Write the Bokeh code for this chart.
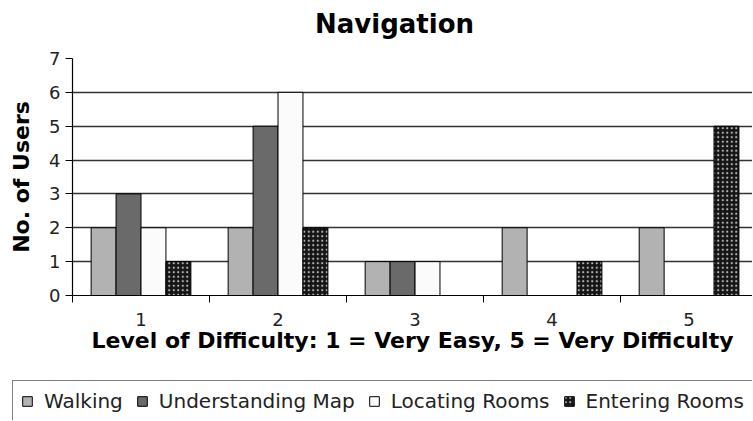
from bokeh.plotting import figure
from bokeh.models import ColumnDataSource, Range1d, FixedTicker, Legend, LegendItem, Label
from bokeh.layouts import column
from bokeh.transform import dodge
from bokeh.embed import file_html
from bokeh.resources import INLINE

title_text = "Navigation"
x_title = "Level of Difficulty: 1 = Very Easy, 5 = Very Difficulty"
y_title = "No. of Users"
levels = [1, 2, 3, 4, 5]
level_labels = ["1", "2", "3", "4", "5"]
walking = [2, 2, 1, 2, 2]
understanding_map = [3, 5, 1, 0, 0]
locating_rooms = [2, 6, 1, 0, 0]
entering_rooms = [1, 2, 0, 1, 5]
series_names = ["Walking", "Understanding Map", "Locating Rooms", "Entering Rooms"]
series_fill = ["#b2b2b2", "#6a6a6a", "#fbfbfb", "#141414"]

src = ColumnDataSource(dict(x=levels, w=walking, u=understanding_map,
                            l=locating_rooms, e=entering_rooms))

FONT = "DejaVu Sans"
HATCH = dict(hatch_pattern="dot", hatch_color="#b4b4b4", hatch_scale=4.5, hatch_weight=3.0)
W = 752


def strip(h):
    f = figure(width=W, height=h, output_backend="svg", toolbar_location=None,
               x_range=Range1d(0, W), y_range=Range1d(0, h), min_border=0,
               min_border_left=0, min_border_right=0, min_border_top=0, min_border_bottom=0,
               x_axis_location=None, y_axis_location=None, outline_line_color=None,
               background_fill_color="white", border_fill_color="white")
    f.frame_align = False
    f.xgrid.grid_line_color = None
    f.ygrid.grid_line_color = None
    return f


# title strip
tp = strip(40)
tp.add_layout(Label(x=394, y=17, text=title_text, text_align="center",
                    text_baseline="alphabetic", text_font=FONT, text_font_size="26px",
                    text_font_style="bold", text_color="black"))

# main chart
p = figure(width=W, height=335, output_backend="svg", toolbar_location=None,
           x_range=Range1d(0.5, 5.463), y_range=Range1d(0, 7),
           min_border_left=72, min_border_right=0, min_border_top=18,
           min_border_bottom=80, background_fill_color="white",
           border_fill_color="white", outline_line_color=None)
p.frame_align = False

bw = 0.182
common = dict(source=src, width=bw, line_color="black", line_width=1)
p.vbar(x=dodge("x", -0.273, range=p.x_range), top="w", fill_color=series_fill[0], **common)
p.vbar(x=dodge("x", -0.091, range=p.x_range), top="u", fill_color=series_fill[1], **common)
p.vbar(x=dodge("x", 0.091, range=p.x_range), top="l", fill_color=series_fill[2], **common)
p.vbar(x=dodge("x", 0.273, range=p.x_range), top="e", fill_color=series_fill[3], **HATCH, **common)

p.xaxis.ticker = FixedTicker(ticks=levels, minor_ticks=[0.5, 1.5, 2.5, 3.5, 4.5, 5.5])
p.xaxis.major_label_overrides = {lv: lb for lv, lb in zip(levels, level_labels)}
p.xaxis.major_tick_out = 0
p.xaxis.major_tick_in = 0
p.xaxis.minor_tick_out = 7
p.xaxis.minor_tick_in = 0
p.xaxis.minor_tick_line_color = "black"
p.xaxis.axis_line_color = "black"
p.xaxis.axis_line_width = 1.2
p.xaxis.major_label_text_font = FONT
p.xaxis.major_label_text_font_size = "18px"
p.xaxis.major_label_text_color = "#222222"
p.xaxis.major_label_standoff = 10
p.xaxis.axis_label = x_title
p.xaxis.axis_label_text_font = FONT
p.xaxis.axis_label_text_font_size = "22px"
p.xaxis.axis_label_text_font_style = "bold"
p.xaxis.axis_label_text_color = "black"
p.xaxis.axis_label_standoff = -1

p.yaxis.ticker = FixedTicker(ticks=list(range(0, 8)))
p.yaxis.major_tick_out = 7
p.yaxis.major_tick_in = 0
p.yaxis.minor_tick_line_color = None
p.yaxis.major_tick_line_color = "black"
p.yaxis.axis_line_color = "black"
p.yaxis.axis_line_width = 1.2
p.yaxis.major_label_text_font = FONT
p.yaxis.major_label_text_font_size = "18px"
p.yaxis.major_label_text_color = "#222222"
p.yaxis.major_label_standoff = 5
p.yaxis.axis_label = y_title
p.yaxis.axis_label_text_font = FONT
p.yaxis.axis_label_text_font_size = "22px"
p.yaxis.axis_label_text_font_style = "bold"
p.yaxis.axis_label_text_color = "black"
p.yaxis.axis_label_standoff = 12

p.xgrid.grid_line_color = None
p.ygrid.ticker = FixedTicker(ticks=list(range(1, 8)))
p.ygrid.grid_line_color = "#333333"
p.ygrid.grid_line_width = 1.3

# legend strip
lg = strip(45)
items = []
for i, (name, fc) in enumerate(zip(series_names, series_fill)):
    extra = HATCH if i == 3 else {}
    r = lg.vbar(x=[-100], top=[0], width=1, fill_color=fc, line_color="black", **extra)
    items.append(LegendItem(label=name, renderers=[r]))

legend = Legend(items=items, orientation="horizontal", location=(12, -2),
                glyph_width=12, glyph_height=12, label_standoff=11, spacing=13,
                padding=8, margin=0, border_line_color="black", border_line_width=1.2,
                label_text_font=FONT, label_text_font_size="20px",
                label_text_color="#222222", background_fill_alpha=1)
lg.add_layout(legend, "center")

layout = column(tp, p, lg, spacing=0)
open("out.html", "w").write(file_html(layout, INLINE))
